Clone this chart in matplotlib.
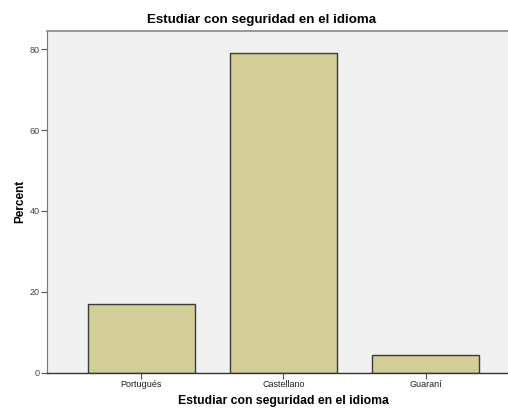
import matplotlib
matplotlib.use("Agg")
import matplotlib.pyplot as plt

# Values
categories = ["Portugués", "Castellano", "Guaraní"]
percent = [16.9, 79.2, 4.3]
y_ticks = [0, 20, 40, 60, 80]

plt.rcParams['font.family'] = ['Liberation Sans', 'DejaVu Sans']

fig = plt.figure(figsize=(5.08, 4.09), dpi=100)
ax = fig.add_axes([0.0925, 0.089, 0.93, 0.835])
ax.set_facecolor("#F0F0F0")

x = list(range(len(categories)))
ax.bar(x, percent, width=0.75, color="#D3CE97", edgecolor="#3A3A3A", linewidth=1.0, zorder=2)

ax.set_xlim(-0.664, 2.66)
ax.set_ylim(0, 84.5)
ax.set_xticks(x)
ax.set_xticklabels(categories, fontsize=6.5)
ax.set_yticks(y_ticks)
ax.set_yticklabels([str(v) for v in y_ticks], fontsize=6.5)
ax.tick_params(axis="both", direction="out", length=4, width=0.8, colors="#555555", pad=1.5)
ax.tick_params(axis="x", labelcolor="#222222")
ax.tick_params(axis="y", labelcolor="#444444")

ax.spines["top"].set_color("#888888")
ax.spines["top"].set_linewidth(1.2)
ax.spines["left"].set_color("#777777")
ax.spines["bottom"].set_color("#333333")
ax.spines["bottom"].set_linewidth(1.0)
ax.spines["right"].set_visible(False)

# title is centred on the visible part of the chart, not on the axes
fig.text(0.514, 0.951, "Estudiar con seguridad en el idioma", fontsize=9.6,
         fontweight="bold", ha="center", va="center")
ax.set_xlabel("Estudiar con seguridad en el idioma", fontsize=8.8, fontweight="bold", labelpad=4)
ax.set_ylabel("Percent", fontsize=8.5, fontweight="bold", labelpad=2)

fig.savefig("out.png", dpi=100)
